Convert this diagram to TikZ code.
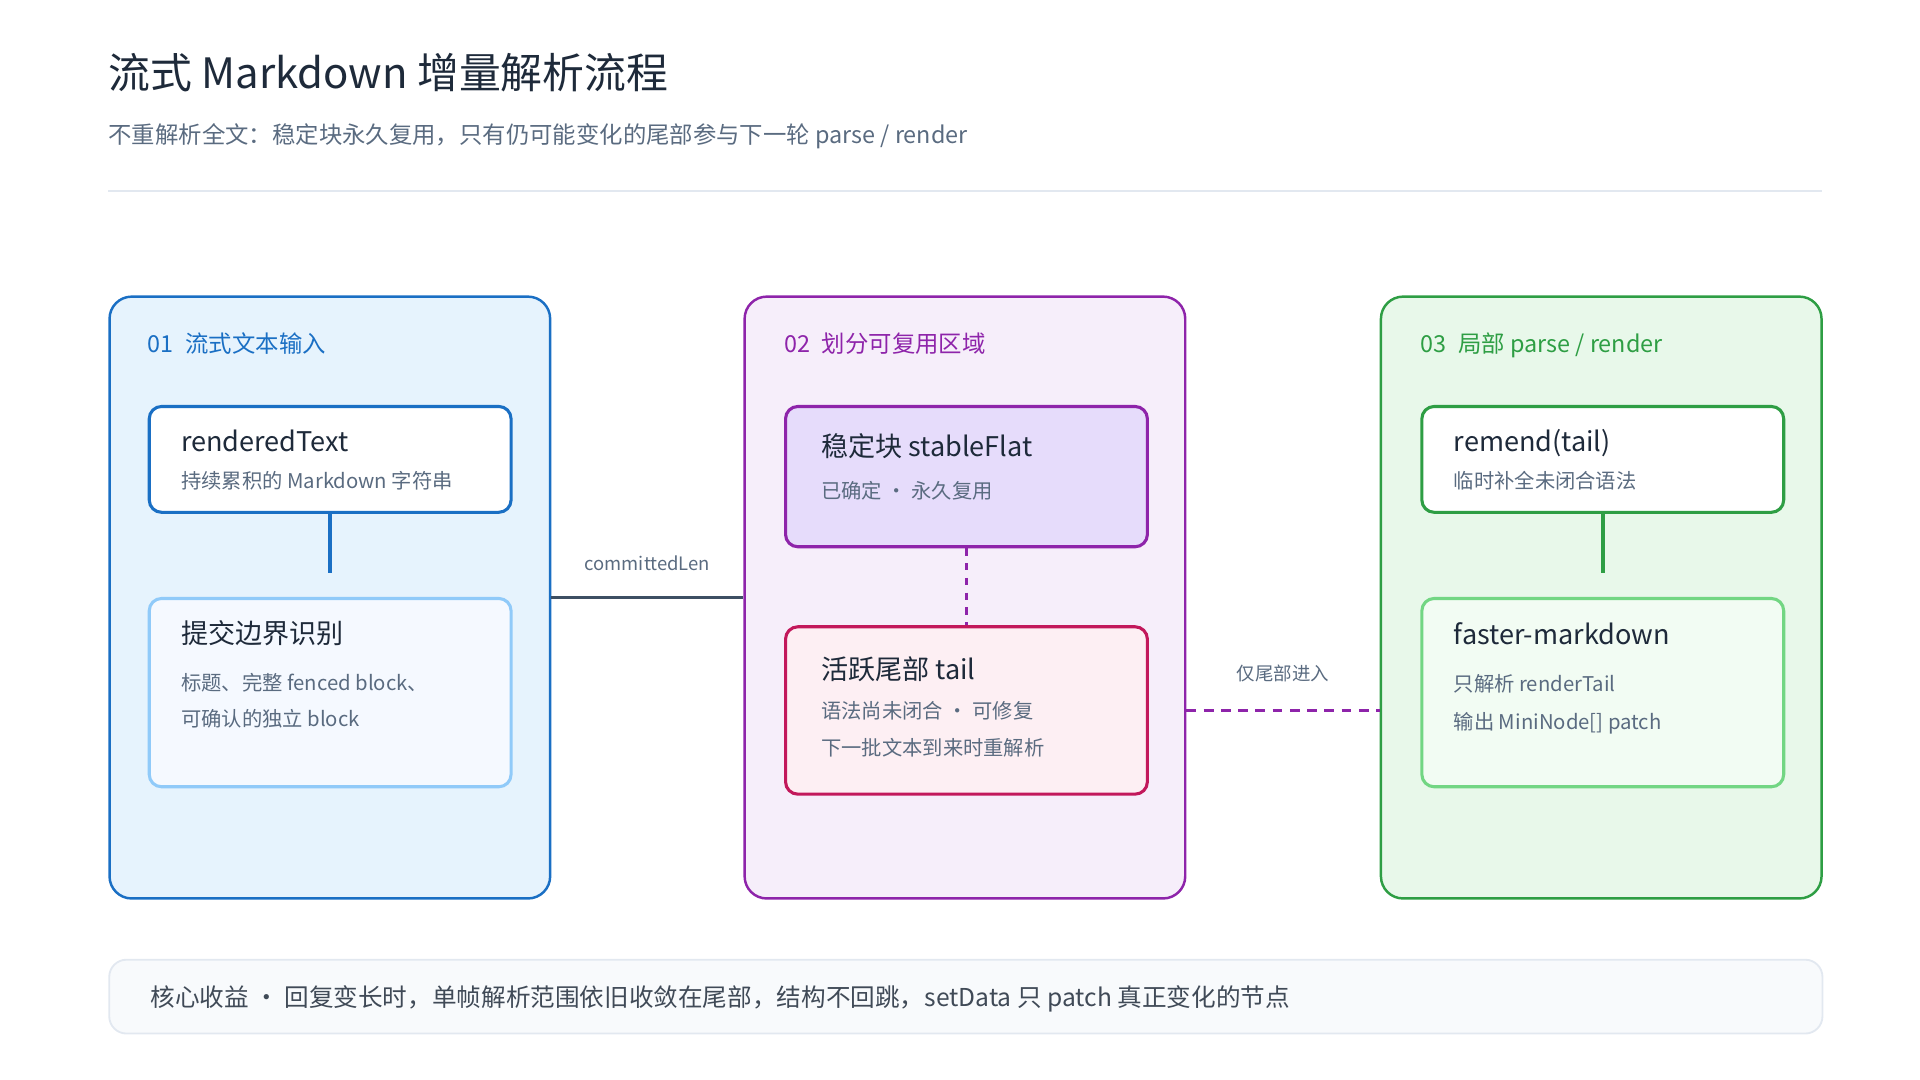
\documentclass[tikz,border=0pt]{standalone}
\usepackage{fontspec}
\setmainfont{Noto Sans CJK SC}
\usetikzlibrary{positioning,calc}
\definecolor{ink}{HTML}{1E2A3A}
\definecolor{subgray}{HTML}{5A6B80}
\definecolor{rulegray}{HTML}{E2E8F0}
\definecolor{barfill}{HTML}{F8FAFC}
\definecolor{blueline}{HTML}{1A6FC4}
\definecolor{bluefill}{HTML}{E6F3FD}
\definecolor{bluelight}{HTML}{90CAF9}
\definecolor{bluepale}{HTML}{F5F9FF}
\definecolor{purpline}{HTML}{8E24AA}
\definecolor{purpfill}{HTML}{F6EEFA}
\definecolor{purpbox}{HTML}{E6DCFB}
\definecolor{roseline}{HTML}{C2185B}
\definecolor{rosefill}{HTML}{FDEFF3}
\definecolor{greenline}{HTML}{2E9E44}
\definecolor{greenfill}{HTML}{E8F8EA}
\definecolor{greenlight}{HTML}{72D683}
\definecolor{greenpale}{HTML}{F2FCF3}
\definecolor{wire}{HTML}{3D4F63}
\tikzset{
  panel/.style={draw, line width=2pt, rounded corners=18pt, anchor=north west,
    minimum width=358pt, minimum height=489pt, inner sep=0pt},
  card/.style={draw, line width=2.5pt, rounded corners=10pt, anchor=north west,
    minimum width=294pt, inner sep=0pt},
  head/.style={anchor=base west, inner sep=0pt, font=\fontsize{19}{22}\selectfont},
  ctitle/.style={anchor=base west, inner sep=0pt, text=ink, font=\fontsize{22}{26}\selectfont},
  csub/.style={anchor=base west, inner sep=0pt, text=subgray, font=\fontsize{16.5}{20}\selectfont},
  elabel/.style={inner sep=0pt, text=subgray, font=\fontsize{15}{18}\selectfont},
}
\begin{document}
\begin{tikzpicture}[x=1pt,y=-1pt]
    \useasboundingbox (0,0) rectangle (1560,877.5);
    % Title
    \node[anchor=base west, inner sep=0pt, text=ink, font=\fontsize{34}{40}\selectfont] (title) at (88,72) {流式 Markdown 增量解析流程};
    \node[anchor=base west, inner sep=0pt, text=subgray, font=\fontsize{19}{22}\selectfont] (subtitle) at (88,117) {不重解析全文：稳定块永久复用，只有仍可能变化的尾部参与下一轮 parse / render};
    \draw[rulegray, line width=1.5pt] (88,155) -- (1480,155);

    % Panels
    \node[panel, draw=blueline, fill=bluefill] (p1) at (88,240) {};
    \node[panel, draw=purpline, fill=purpfill] (p2) at (604,240) {};
    \node[panel, draw=greenline, fill=greenfill] (p3) at (1121,240) {};
    \node[head, text=blueline] (h1) at (120,286) {01\enspace 流式文本输入};
    \node[head, text=purpline] (h2) at (637,286) {02\enspace 划分可复用区域};
    \node[head, text=greenline] (h3) at (1154,286) {03\enspace 局部 parse / render};

    % Panel 1
    \node[card, draw=blueline, fill=white, minimum height=86pt] (rendered) at (120,329) {};
    \node[ctitle] at (147,367) {renderedText};
    \node[csub] at (147,397) {持续累积的 Markdown 字符串};
    \node[card, draw=bluelight, fill=bluepale, minimum height=153pt] (commit) at (120,485) {};
    \node[ctitle] at (147,523) {提交边界识别};
    \node[csub] at (147,561) {标题、完整 fenced block、};
    \node[csub] at (147,590) {可确认的独立 block};
    \draw[blueline, line width=3pt] (rendered.south) -- ++(0,48);

    % Panel 2
    \node[card, draw=purpline, fill=purpbox, minimum height=114pt] (stable) at (637,329) {};
    \node[ctitle] at (667,371) {稳定块 stableFlat};
    \node[csub] at (667,405) {已确定 · 永久复用};
    \node[card, draw=roseline, fill=rosefill, minimum height=136pt] (tail) at (637,508) {};
    \node[ctitle] at (667,552) {活跃尾部 tail};
    \node[csub] at (667,584) {语法尚未闭合 · 可修复};
    \node[csub] at (667,614) {下一批文本到来时重解析};
    \draw[purpline, line width=2pt, dash pattern=on 6pt off 6pt] (stable.south) -- (tail.north);

    % Panel 3
    \node[card, draw=greenline, fill=white, minimum height=86pt] (remend) at (1154,329) {};
    \node[ctitle] at (1181,367) {remend(tail)};
    \node[csub] at (1181,397) {临时补全未闭合语法};
    \node[card, draw=greenlight, fill=greenpale, minimum height=153pt] (faster) at (1154,485) {};
    \node[ctitle] at (1181,524) {faster-markdown};
    \node[csub] at (1181,562) {只解析 renderTail};
    \node[csub] at (1181,593) {输出 MiniNode[] patch};
    \draw[greenline, line width=3pt] (remend.south) -- ++(0,48);

    % Connectors between panels
    \draw[wire, line width=3pt] (p1.east) -- node[elabel, above=20pt] {committedLen} (p2.west);
    \draw[purpline, line width=3pt, dash pattern=on 8pt off 6pt] (tail.east -| p2.east) -- node[elabel, above=22pt] {仅尾部进入} (tail.east -| p3.west);

    % Summary bar
    \node[draw=rulegray, line width=1.5pt, fill=barfill, rounded corners=14pt, anchor=north west,
      minimum width=1392pt, minimum height=60pt, inner sep=0pt] (summary) at (88,779) {};
    \node[anchor=base west, inner sep=0pt, text=ink!85, font=\fontsize{20}{24}\selectfont] (gain) at (122,818) {核心收益 · 回复变长时，单帧解析范围依旧收敛在尾部，结构不回跳，setData 只 patch 真正变化的节点};
\end{tikzpicture}
\end{document}
